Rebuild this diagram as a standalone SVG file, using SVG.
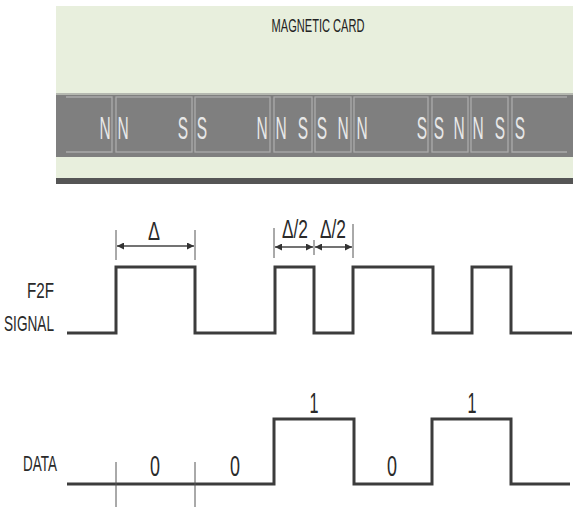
<svg xmlns="http://www.w3.org/2000/svg" width="573" height="507" viewBox="0 0 573 507">
<style>
text{font-family:"Liberation Sans",Arial,sans-serif;}
.pole{font-size:31px;fill:#e8e8e8;text-anchor:middle;}
.lbl{font-size:22px;fill:#2a2a2a;text-anchor:end;}
.dig{font-size:29px;fill:#2a2a2a;text-anchor:middle;}
.dl{font-size:26px;fill:#2a2a2a;text-anchor:middle;}
.wave{fill:none;stroke:#3c3c3c;stroke-width:3;stroke-linejoin:miter;}
.box{fill:none;stroke:#ababab;stroke-width:1.3;}
.dim{stroke:#444;stroke-width:1.4;fill:none;}
.tick{stroke:#555;stroke-width:1;}
</style>
<defs>
<marker id="ah" viewBox="0 0 10 10" refX="10" refY="5" markerWidth="8" markerHeight="7" markerUnits="userSpaceOnUse" orient="auto-start-reverse">
<path d="M0,0 L10,5 L0,10 z" fill="#333"/>
</marker>
</defs>
<rect width="573" height="507" fill="#ffffff"/>
<g id="card">
<rect x="56" y="6" width="517" height="173" fill="#e8efdd"/>
<text x="318" y="32" font-size="19" fill="#222" text-anchor="middle" textLength="93" lengthAdjust="spacingAndGlyphs">MAGNETIC CARD</text>
<rect x="56" y="93" width="517" height="2" fill="#b5b8b0"/>
<rect x="56" y="95" width="517" height="62" fill="#7f7f7f"/>
<rect x="56" y="178" width="517" height="6" fill="#555555"/>
<g id="stripe-boxes">
<path class="box" d="M66,97 H112 V152 H66"/>
<rect class="box" x="116" y="97" width="76" height="55"/>
<rect class="box" x="195" y="97" width="75" height="55"/>
<rect class="box" x="274" y="97" width="38" height="55"/>
<rect class="box" x="315" y="97" width="36" height="55"/>
<rect class="box" x="354" y="97" width="74" height="55"/>
<rect class="box" x="432" y="97" width="36" height="55"/>
<rect class="box" x="471" y="97" width="37" height="55"/>
<path class="box" d="M567,97 H512 V152 H567"/>
</g>
<g id="poles">
<text class="pole" transform="translate(105,139) scale(0.5,1)">N</text>
<text class="pole" transform="translate(123,139) scale(0.5,1)">N</text>
<text class="pole" transform="translate(183,139) scale(0.5,1)">S</text>
<text class="pole" transform="translate(202,139) scale(0.5,1)">S</text>
<text class="pole" transform="translate(262,139) scale(0.5,1)">N</text>
<text class="pole" transform="translate(281,139) scale(0.5,1)">N</text>
<text class="pole" transform="translate(303,139) scale(0.5,1)">S</text>
<text class="pole" transform="translate(322,139) scale(0.5,1)">S</text>
<text class="pole" transform="translate(343,139) scale(0.5,1)">N</text>
<text class="pole" transform="translate(362,139) scale(0.5,1)">N</text>
<text class="pole" transform="translate(422,139) scale(0.5,1)">S</text>
<text class="pole" transform="translate(439,139) scale(0.5,1)">S</text>
<text class="pole" transform="translate(459,139) scale(0.5,1)">N</text>
<text class="pole" transform="translate(478,139) scale(0.5,1)">N</text>
<text class="pole" transform="translate(500,139) scale(0.5,1)">S</text>
<text class="pole" transform="translate(520,139) scale(0.5,1)">S</text>
</g>
</g>
<g id="f2f-signal">
<text class="lbl" x="54" y="298" textLength="27" lengthAdjust="spacingAndGlyphs">F2F</text>
<text class="lbl" x="54" y="331" textLength="50" lengthAdjust="spacingAndGlyphs">SIGNAL</text>
<path class="wave" d="M67,333 H116 V267 H195 V333 H275 V267 H314 V333 H353 V267 H433 V333 H472 V267 H511 V333 H572"/>
</g>
<g id="data-signal">
<text class="lbl" x="57" y="471" font-size="21" textLength="34" lengthAdjust="spacingAndGlyphs">DATA</text>
<path class="wave" d="M67,484 H274 V419 H354 V484 H432 V419 H511 V484 H570"/>
<line class="tick" x1="116" y1="462" x2="116" y2="507"/>
<line class="tick" x1="195" y1="462" x2="195" y2="507"/>
<text class="dig" x="155" y="476" textLength="10" lengthAdjust="spacingAndGlyphs">0</text>
<text class="dig" x="235" y="476" textLength="10" lengthAdjust="spacingAndGlyphs">0</text>
<text class="dig" x="392" y="476" textLength="10" lengthAdjust="spacingAndGlyphs">0</text>
<text class="dig" x="314" y="413" textLength="9" lengthAdjust="spacingAndGlyphs">1</text>
<text class="dig" x="472" y="413" textLength="9" lengthAdjust="spacingAndGlyphs">1</text>
</g>
<g id="dimensions">
<line class="tick" x1="116" y1="230" x2="116" y2="260"/>
<line class="tick" x1="195" y1="230" x2="195" y2="260"/>
<line class="tick" x1="274" y1="228" x2="274" y2="258"/>
<line class="tick" x1="314" y1="240" x2="314" y2="255"/>
<line class="tick" x1="353" y1="224" x2="353" y2="258"/>
<line class="dim" x1="117" y1="246" x2="194" y2="246" marker-start="url(#ah)" marker-end="url(#ah)"/>
<line class="dim" x1="275" y1="247" x2="313" y2="247" marker-start="url(#ah)" marker-end="url(#ah)"/>
<line class="dim" x1="315" y1="247" x2="352" y2="247" marker-start="url(#ah)" marker-end="url(#ah)"/>
<text class="dl" x="154" y="240" font-size="24" textLength="12" lengthAdjust="spacingAndGlyphs">Δ</text>
<text class="dl" x="295" y="238" textLength="26" lengthAdjust="spacingAndGlyphs">Δ/2</text>
<text class="dl" x="333" y="238" textLength="26" lengthAdjust="spacingAndGlyphs">Δ/2</text>
</g>
</svg>
